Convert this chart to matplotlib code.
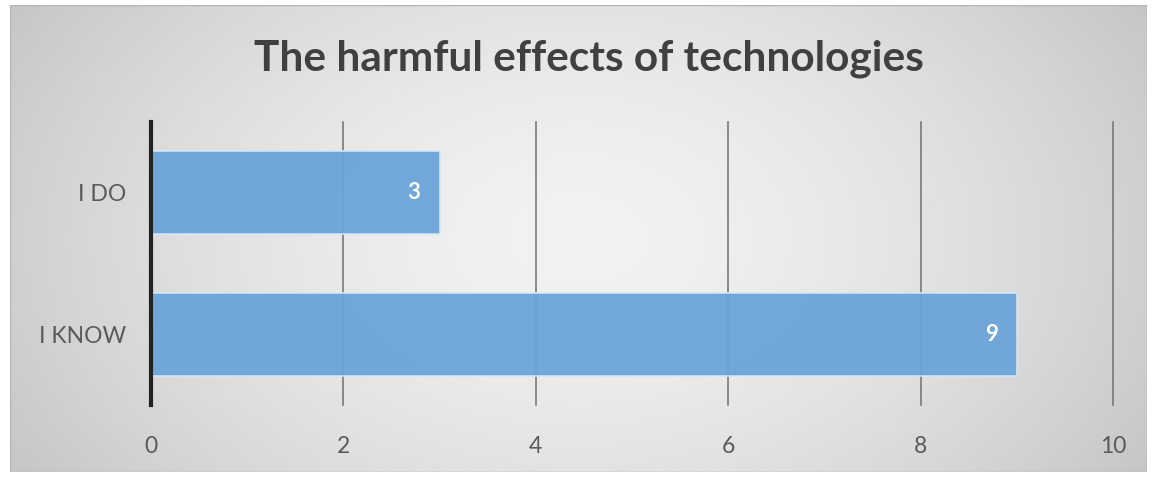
import numpy as np
import matplotlib
matplotlib.use("Agg")
import matplotlib.pyplot as plt

title = "The harmful effects of technologies"
categories = ["I KNOW", "I DO"]
values = [9, 3]
xticks = [0, 2, 4, 6, 8, 10]

fig = plt.figure(figsize=(11.52, 4.79), dpi=100)
fig.patch.set_facecolor("white")

# radial grey backdrop of the chart area
bg = fig.add_axes([10 / 1152, 7 / 479, 1137 / 1152, 467 / 479])
yy, xx = np.mgrid[-1:1:300j, -1:1:700j]
r = np.sqrt((xx * 0.9) ** 2 + (yy * 0.55) ** 2)
shade = 0.95 - 0.16 * np.clip(r, 0, 1.2) ** 1.6
bg.imshow(np.dstack([shade, shade, shade]), aspect="auto", extent=[0, 1, 0, 1])
bg.set_axis_off()
bg.add_patch(plt.Rectangle((0, 0), 1, 1, fill=False, ec="#b5b5b5", lw=1))

ax = fig.add_axes([151 / 1152, 74 / 479, 962 / 1152, 283 / 479])
ax.patch.set_alpha(0)
ypos = np.arange(len(categories))
ax.barh(ypos, values, height=0.59, color="#6aa3d8", edgecolor="#d6e6f5",
        linewidth=1.2, alpha=0.94, zorder=4)
for y, v in zip(ypos, values):
    ax.text(v - 0.2, y, str(v), ha="right", va="center", color="white",
            fontsize=16, fontweight="bold", family="Lato", zorder=6)

ax.set_xlim(0, 10)
ax.set_ylim(-0.5, 1.5)
ax.set_xticks(xticks)
ax.set_yticks(ypos)
ax.set_yticklabels(categories)
for x in xticks[1:]:
    ax.axvline(x, color="#707070", lw=1.1, zorder=2, clip_on=False)
for s in ["top", "right", "bottom"]:
    ax.spines[s].set_visible(False)
ax.spines["left"].set_linewidth(3)
ax.spines["left"].set_color("#222222")
ax.spines["left"].set_zorder(7)
ax.tick_params(length=0, colors="#5a5a5a", labelsize=16.5)
ax.tick_params(axis="y", pad=18)
ax.tick_params(axis="x", pad=22)
for lab in ax.get_xticklabels() + ax.get_yticklabels():
    lab.set_family("Lato")

fig.text(0.511, 0.878, title, ha="center", va="center", fontsize=30.5,
         fontweight="bold", color="#404040", family="Lato")

fig.savefig("out.png", dpi=100)
